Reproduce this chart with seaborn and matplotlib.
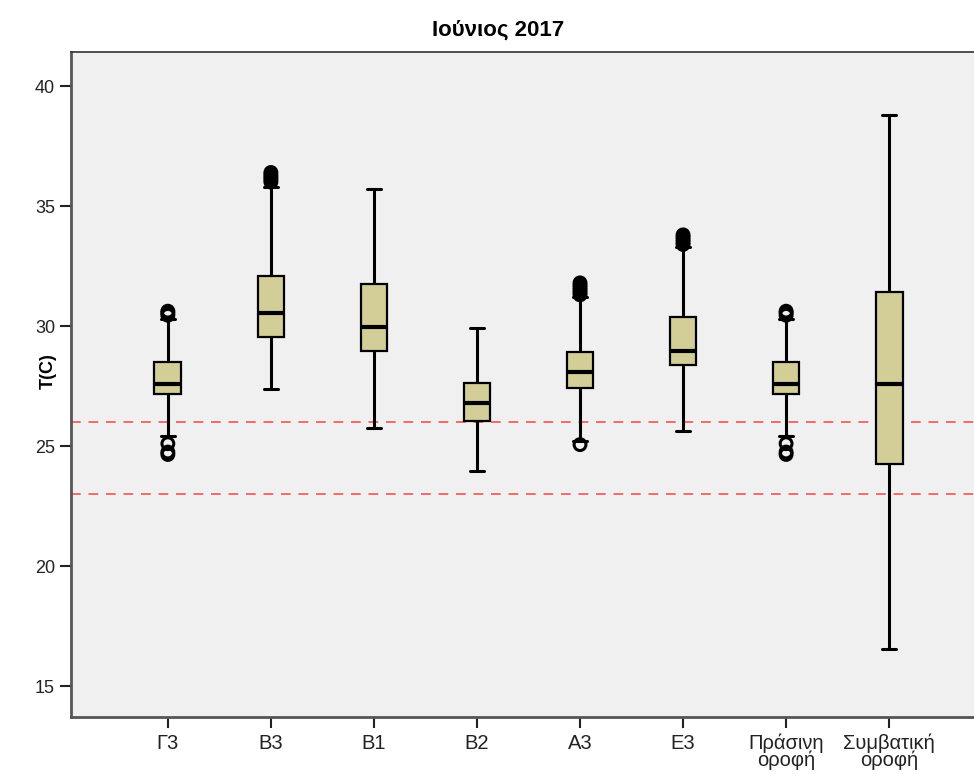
import matplotlib
matplotlib.use("Agg")
import matplotlib.pyplot as plt
import numpy as np
import pandas as pd
import seaborn as sns

# groups and box summaries
groups = ["Γ3", "Β3", "Β1", "Β2", "Α3", "Ε3", "Πράσινη\nοροφή", "Συμβατική\nοροφή"]
lower_whisker = [25.43, 27.38, 25.74, 23.96, 25.20, 25.64, 25.43, 16.54]
q1 = [27.15, 29.53, 28.97, 26.04, 27.40, 28.36, 27.15, 24.25]
median = [27.57, 30.53, 29.97, 26.80, 28.07, 28.97, 27.57, 27.58]
q3 = [28.50, 32.10, 31.74, 27.61, 28.94, 30.36, 28.50, 31.43]
upper_whisker = [30.30, 35.80, 35.70, 29.92, 31.20, 33.30, 30.30, 38.80]

# outlier points (several close values overlap into a solid blob)
out_group = ["Γ3", "Γ3", "Γ3", "Γ3", "Γ3", "Γ3",
             "Β3", "Β3", "Β3", "Β3", "Β3",
             "Α3", "Α3", "Α3", "Α3", "Α3", "Α3", "Α3",
             "Ε3", "Ε3", "Ε3", "Ε3", "Ε3",
             "Πράσινη\nοροφή", "Πράσινη\nοροφή", "Πράσινη\nοροφή",
             "Πράσινη\nοροφή", "Πράσινη\nοροφή", "Πράσινη\nοροφή"]
out_value = [30.45, 30.55, 30.62, 25.10, 24.65, 24.75,
             36.00, 36.10, 36.20, 36.30, 36.40,
             31.30, 31.40, 31.50, 31.60, 31.70, 31.80, 25.06,
             33.40, 33.50, 33.60, 33.70, 33.80,
             30.45, 30.55, 30.62, 25.10, 24.65, 24.75]

comfort_upper = 26
comfort_lower = 23

rows = []
for i, g in enumerate(groups):
    for v in (lower_whisker[i], q1[i], median[i], q3[i], upper_whisker[i]):
        rows.append({"group": g, "T": v})
df = pd.DataFrame(rows)
out_df = pd.DataFrame({"group": out_group, "T": out_value})

sns.set_style("white")
plt.rcParams['font.family'] = ['Liberation Sans', 'DejaVu Sans']

fig = plt.figure(figsize=(9.74, 7.74), dpi=100)
ax = fig.add_axes([71 / 974, 57 / 774, 915 / 974, 665 / 774])
ax.set_facecolor("#F0F0F0")

ax.axhline(comfort_upper, color="#F26B6B", lw=1.4, ls=(0, (5, 4)), zorder=1)
ax.axhline(comfort_lower, color="#F26B6B", lw=1.4, ls=(0, (5, 4)), zorder=1)

sns.boxplot(data=df, x="group", y="T", order=groups, whis=np.inf, width=0.26,
            color="#D3CE98", saturation=1, linecolor="black", linewidth=1.6,
            ax=ax, capwidths=0.13,
            boxprops=dict(edgecolor="black", linewidth=1.6, zorder=3),
            medianprops=dict(color="black", linewidth=3, zorder=4),
            whiskerprops=dict(color="black", linewidth=2.2, zorder=2),
            capprops=dict(color="black", linewidth=2.2, zorder=2))

n_before = len(ax.collections)
sns.stripplot(data=out_df, x="group", y="T", order=groups, jitter=False,
              color="black", size=8.5, linewidth=2.2, edgecolor="black", ax=ax,
              zorder=5)
for coll in ax.collections[n_before:]:
    coll.set_facecolor("none")
    coll.set_edgecolor("black")

ax.set_xlim(-0.94, 7.94)
ax.set_ylim(13.71, 41.42)
ax.set_yticks([15, 20, 25, 30, 35, 40])

ax.set_title("Ιούνιος 2017", fontsize=16, fontweight="bold", pad=12,
             color="black", x=0.467)
ax.set_ylabel("T(C)", fontsize=13, fontweight="bold", color="black")
ax.yaxis.set_label_coords(-0.016, 0.52)
ax.set_xlabel("")

ax.tick_params(axis="both", direction="out", length=8, width=1.5,
               color="#222222", labelsize=13, labelcolor="#222222",
               bottom=True, left=True)
ax.tick_params(axis="x", pad=4)
for lbl in ax.get_xticklabels():
    lbl.set_linespacing(0.85)
    lbl.set_fontsize(14.5)

for side in ("left", "bottom"):
    ax.spines[side].set_color("#555555")
    ax.spines[side].set_linewidth(2)
ax.spines["top"].set_color("#333333")
ax.spines["top"].set_linewidth(1.2)
ax.spines["right"].set_visible(False)

plt.savefig("out.png", dpi=100)
